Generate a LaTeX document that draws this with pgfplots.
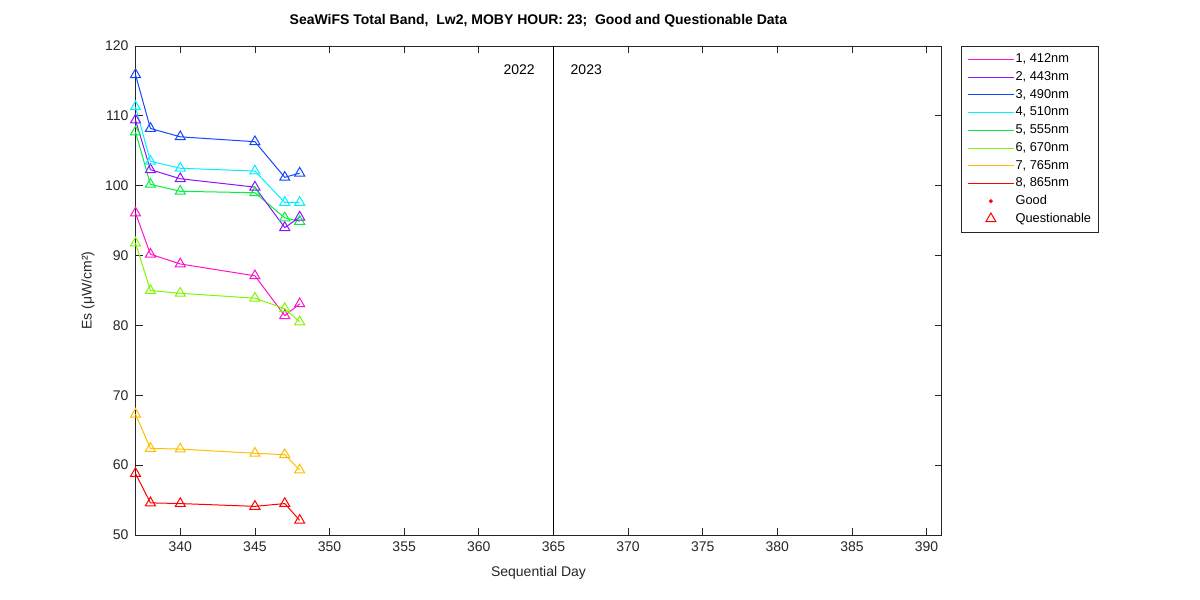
\documentclass[border=0pt]{standalone}
\usepackage{fontspec}
\setmainfont{Liberation Sans}
\usepackage{pgfplots}
\pgfplotsset{compat=1.18}
\definecolor{axgray}{rgb}{0.15,0.15,0.15}
\definecolor{bandA}{RGB}{255,20,200}
\definecolor{bandB}{RGB}{140,20,255}
\definecolor{bandC}{RGB}{20,70,255}
\definecolor{bandD}{RGB}{0,240,255}
\definecolor{bandE}{RGB}{0,240,60}
\definecolor{bandF}{RGB}{130,245,0}
\definecolor{bandG}{RGB}{255,190,0}
\definecolor{bandH}{RGB}{255,0,0}
\begin{document}
\begin{tikzpicture}
\path[use as bounding box] (0,0) rectangle (600pt,300pt);
\begin{axis}[
  at={(67.75pt,32.5pt)}, anchor=south west,
  scale only axis, width=403pt, height=244.5pt,
  xmin=337, xmax=391, ymin=50, ymax=120,
  xtick={340,345,...,390}, ytick={50,60,...,120},
  tick align=inside, major tick length=3.5pt,
  axis line style={axgray, line width=0.4pt},
  every tick/.style={axgray, line width=0.4pt},
  tick label style={font=\fontsize{7}{8}\selectfont, text=axgray},
  /pgf/number format/assume math mode=true,
  /pgf/number format/1000 sep={},
  clip=false,
  title={\textbf{SeaWiFS Total Band,\ \ Lw2, MOBY HOUR: 23;\ \ Good and Questionable Data}},
  title style={font=\fontsize{7}{8}\selectfont, at={(axis description cs:0.5,1.019)}, anchor=base},
  xlabel={Sequential Day},
  xlabel style={font=\fontsize{7}{8}\selectfont, text=axgray, at={(axis description cs:0.5,-0.0777)}, anchor=center},
  ylabel={Es (μW/cm²)},
  ylabel style={font=\fontsize{7}{8}\selectfont, text=axgray, at={(axis description cs:-0.0589,0.5)}, anchor=center},
  legend style={at={(1.0242,1)}, anchor=north west, draw=axgray, line width=0.4pt,
    font=\fontsize{6.4}{7}\selectfont, inner xsep=3pt, inner ysep=3.2pt, row sep=2.15pt,
    nodes={inner sep=0.6pt, text height=4.4pt, text depth=1.1pt}},
  legend cell align=left,
  legend image code/.code={\draw[#1, line width=0.5pt] (0pt,0pt) -- (23pt,0pt);},
  every axis plot/.append style={line width=0.5pt, mark=triangle, mark size=2.9pt, mark options={solid, fill=none}},
]
\addplot[color=bandA, forget plot] coordinates {(337,96.1) (338,90.2) (340,88.8) (345,87.1) (347,81.4) (348,83.1)};
\addplot[color=bandF, forget plot] coordinates {(337,91.8) (338,85.0) (340,84.6) (345,83.9) (347,82.4) (348,80.5)};
\addplot[color=bandG, forget plot] coordinates {(337,67.3) (338,62.4) (340,62.3) (345,61.7) (347,61.5) (348,59.3)};
\addplot[color=bandH, forget plot] coordinates {(337,58.8) (338,54.6) (340,54.5) (345,54.1) (347,54.5) (348,52.1)};
\addplot[color=bandE, forget plot] coordinates {(337,107.7) (338,100.2) (340,99.2) (345,99.0) (347,95.4) (348,94.9)};
\addplot[color=bandB, forget plot] coordinates {(337,109.4) (338,102.3) (340,101.0) (345,99.8) (347,94.0) (348,95.5)};
\addplot[color=bandD, forget plot] coordinates {(337,111.3) (338,103.5) (340,102.5) (345,102.1) (347,97.6) (348,97.6)};
\addplot[color=bandC, forget plot] coordinates {(337,115.9) (338,108.2) (340,107.0) (345,106.3) (347,101.2) (348,101.8)};
\addplot[black, line width=0.6pt, mark=none, forget plot] coordinates {(365,50) (365,120)};
\node[font=\fontsize{7}{8}\selectfont, text=black] at (axis cs:362.7,116.6) {2022};
\node[font=\fontsize{7}{8}\selectfont, text=black] at (axis cs:367.2,116.6) {2023};
\addlegendimage{color=bandA}\addlegendentry{1, 412nm}
\addlegendimage{color=bandB}\addlegendentry{2, 443nm}
\addlegendimage{color=bandC}\addlegendentry{3, 490nm}
\addlegendimage{color=bandD}\addlegendentry{4, 510nm}
\addlegendimage{color=bandE}\addlegendentry{5, 555nm}
\addlegendimage{color=bandF}\addlegendentry{6, 670nm}
\addlegendimage{color=bandG}\addlegendentry{7, 765nm}
\addlegendimage{color=bandH}\addlegendentry{8, 865nm}
\addlegendimage{legend image code/.code={\fill[red] (11.5pt,0pt) circle (0.7pt);}}\addlegendentry{Good}
\addlegendimage{legend image code/.code={\draw[red, line width=0.5pt] plot[mark=triangle, mark size=2.9pt] coordinates {(11.5pt,0pt)};}}\addlegendentry{Questionable}
\end{axis}
\end{tikzpicture}
\end{document}
